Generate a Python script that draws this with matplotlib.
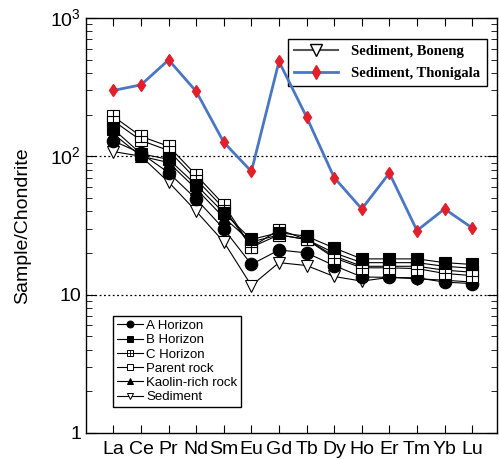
import numpy as np
import matplotlib
matplotlib.use('Agg')
import matplotlib.pyplot as plt
from matplotlib.ticker import LogLocator, FixedLocator, FuncFormatter, NullFormatter

plt.rcParams['font.family'] = ['Liberation Sans', 'DejaVu Sans']
plt.rcParams['mathtext.fontset'] = 'custom'
plt.rcParams['mathtext.rm'] = 'Liberation Sans'

# REE elements (x axis)
elements = ['La', 'Ce', 'Pr', 'Nd', 'Sm', 'Eu', 'Gd', 'Tb', 'Dy', 'Ho', 'Er', 'Tm', 'Yb', 'Lu']

# chondrite-normalised values
a_horizon = [129, 105, 76, 49, 29.8, 16.5, 21, 20, 16.2, 13.4, 13.3, 13.2, 12.3, 12]
b_horizon = [157, 104, 95, 62, 39, 25, 28, 26.4, 21.7, 18.1, 18.1, 18.1, 17, 16.5]
c_horizon = [194, 139, 118, 73, 44.7, 22, 29.4, 25, 18.4, 15.6, 15.6, 15.4, 14.2, 13.7]
parent_rock = [180, 130, 110, 68, 42, 22, 27, 25, 19, 16, 16, 16, 15, 14.5]
kaolin_rock = [145, 100, 90, 58, 36, 24, 27, 25, 20, 17, 17, 17, 16, 15.5]
sediment = [108, 100, 65, 40, 24, 11.6, 17, 16.2, 13.5, 12.5, 13.3, 13, 12.7, 12.3]
thonigala = [299, 328, 497, 294, 126, 77.6, 484, 192, 70, 41.6, 75.5, 29, 41.6, 30.3]

fig = plt.figure(figsize=(4.99, 4.59), dpi=100)
ax = fig.add_axes([0.172, 0.057, 0.824, 0.904])
x = np.arange(len(elements))

style = dict(color='black', lw=0.8, ms=9, markeredgecolor='black', markeredgewidth=0.8)
ax.plot(x, sediment, marker='v', mfc='white', zorder=3, **style)
ax.plot(x, a_horizon, marker='o', mfc='black', zorder=3, **style)
ax.plot(x, kaolin_rock, marker='^', mfc='black', zorder=3, **style)
ax.plot(x, parent_rock, marker='s', mfc='white', zorder=3, **style)
ax.plot(x, c_horizon, marker='s', mfc='white', zorder=3, **style)
# plus inside C horizon squares
ax.plot(x, c_horizon, ls='none', marker='+', ms=9, color='black', mew=0.8, zorder=4)
ax.plot(x, b_horizon, marker='s', mfc='black', zorder=5, **style)

ax.plot(x, thonigala, color='#4a76c4', lw=2, marker='d', ms=6,
        mfc='#e0202a', mec='#e0202a', zorder=6)

ax.set_yscale('log')
ax.set_ylim(1, 1000)
ax.set_xlim(-1, 13.9)

ax.axhline(10, color='black', ls=(0, (1.5, 2)), lw=0.9, zorder=1)
ax.axhline(100, color='black', ls=(0, (1.5, 2)), lw=0.9, zorder=1)

ax.set_xticks(x)
ax.set_xticklabels(elements, fontsize=14)
ax.yaxis.set_major_locator(FixedLocator([1, 10, 100, 1000]))
ax.yaxis.set_minor_locator(LogLocator(base=10, subs=np.arange(2, 10)))
ax.yaxis.set_minor_formatter(NullFormatter())
labels = {1: '1', 10: '10', 100: r'$10^2$', 1000: r'$10^3$'}
ax.yaxis.set_major_formatter(FuncFormatter(lambda v, p: labels.get(int(round(v)), '')))
ax.tick_params(axis='y', which='major', labelsize=14, direction='in', length=7, right=True)
ax.tick_params(axis='y', which='minor', direction='in', length=4, right=True)
ax.tick_params(axis='x', direction='in', length=6, top=True, pad=6)
ax.set_ylabel('Sample/Chondrite', fontsize=14, labelpad=14)
for s in ax.spines.values():
    s.set_linewidth(1.0)

# upper legend (sediment comparison)
h1, = ax.plot([], [], color='#555555', lw=1.5, marker='v', ms=8, mfc='white', mec='black')
h2, = ax.plot([], [], color='#4a76c4', lw=2, marker='d', ms=7, mfc='#e0202a', mec='#e0202a')
leg1 = ax.legend([h1, h2], ['Sediment, Boneng', 'Sediment, Thonigala'],
                 loc='upper right', bbox_to_anchor=(0.975, 0.95), borderaxespad=0,
                 fancybox=False, edgecolor='black', framealpha=1,
                 prop={'family': 'Liberation Serif', 'weight': 'bold', 'size': 10.5},
                 handlelength=3.0, borderpad=0.45, labelspacing=0.55, handletextpad=0.9)
ax.add_artist(leg1)

# lower legend (sample types)
hs = []
for m, fc in [('o', 'black'), ('s', 'black'), ('s', 'white'), ('s', 'white'), ('^', 'black'), ('v', 'white')]:
    h, = ax.plot([], [], color='black', lw=0.8, marker=m, ms=5, mfc=fc, mec='black', mew=0.7)
    hs.append(h)
hp, = ax.plot([], [], ls='none', marker='+', ms=5, color='black', mew=0.6)
hs[2] = (hs[2], hp)
leg2 = ax.legend(hs, ['A Horizon', 'B Horizon', 'C Horizon', 'Parent rock', 'Kaolin-rich rock', 'Sediment'],
                 loc='lower left', bbox_to_anchor=(0.066, 0.062), borderaxespad=0,
                 fancybox=False, edgecolor='black', framealpha=1, fontsize=9.5,
                 handlelength=2.0, borderpad=0.3, labelspacing=0.15, handletextpad=0.2)

fig.savefig('out.png', dpi=100)
